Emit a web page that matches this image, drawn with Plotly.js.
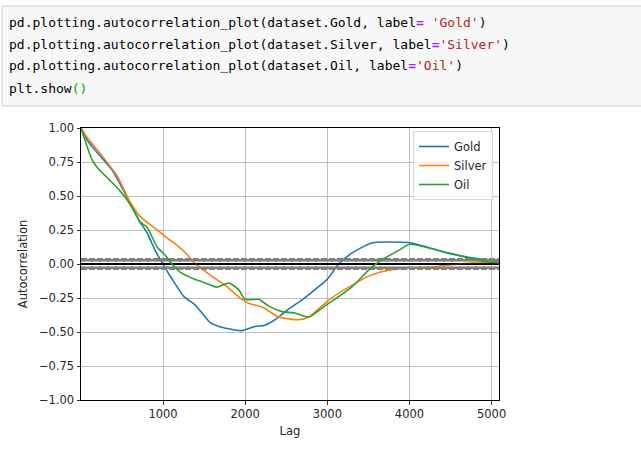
<!DOCTYPE html>
<html>
<head>
<meta charset="utf-8">
<script src="https://cdn.plot.ly/plotly-3.0.1.min.js"></script>
<style>
  html, body { margin: 0; padding: 0; background: #fff; }
  #plot { width: 641px; height: 457px; }
</style>
</head>
<body>
<div id="plot"></div>
<script>
// lag values for each series
var gold_lag = [1, 77, 198, 380, 563, 708, 805, 903, 988, 1109, 1255, 1389, 1474, 1571, 1680, 1875, 1960, 2118, 2239, 2361, 2531, 2689, 2847, 2968, 3017, 3139, 3297, 3540, 3904, 4026, 4232, 4475, 4718, 4961, 5090]
var gold_acf = [1.0, 0.91, 0.82, 0.69, 0.49, 0.32, 0.23, 0.10, 0.01, -0.11, -0.24, -0.30, -0.36, -0.43, -0.46, -0.485, -0.49, -0.46, -0.45, -0.41, -0.33, -0.265, -0.19, -0.13, -0.10, 0.0, 0.08, 0.155, 0.16, 0.155, 0.12, 0.08, 0.05, 0.03, 0.015]

var silver_lag = [1, 77, 198, 441, 587, 720, 927, 1073, 1134, 1292, 1377, 1571, 1753, 1960, 2050, 2203, 2409, 2652, 2774, 3017, 3260, 3540, 3746, 3989, 4305, 4597, 4876, 5090]
var silver_acf = [1.0, 0.93, 0.84, 0.65, 0.47, 0.35, 0.25, 0.18, 0.155, 0.07, 0.01, -0.08, -0.155, -0.26, -0.29, -0.315, -0.39, -0.41, -0.39, -0.265, -0.17, -0.08, -0.045, -0.03, -0.02, 0.0, 0.01, 0.01]

var oil_lag = [1, 77, 137, 198, 344, 465, 563, 660, 720, 806, 927, 1024, 1109, 1207, 1377, 1474, 1656, 1802, 1923, 1996, 2166, 2288, 2446, 2604, 2774, 2968, 3297, 3503, 3661, 3868, 4002, 4232, 4475, 4718, 4961, 5090]
var oil_acf = [1.0, 0.86, 0.765, 0.71, 0.62, 0.545, 0.47, 0.375, 0.31, 0.27, 0.125, 0.066, 0.0, -0.06, -0.11, -0.13, -0.17, -0.14, -0.19, -0.26, -0.26, -0.31, -0.35, -0.36, -0.39, -0.31, -0.17, -0.045, 0.03, 0.10, 0.145, 0.12, 0.08, 0.045, 0.015, 0.01]

var series_names = ['Gold', 'Silver', 'Oil']
var series_colors = ['#1f77b4', '#ff7f0e', '#2ca02c']

var n_obs = 5090
var x_ticks = [1000, 2000, 3000, 4000, 5000]
var y_ticks = [-1.0, -0.75, -0.5, -0.25, 0.0, 0.25, 0.5, 0.75, 1.0]

var code_lines = [
  'pd.plotting.autocorrelation_plot(dataset.Gold, label<span style="color:#aa22ff"><b>=</b></span> <span style="color:#ba2121">\'Gold\'</span>)',
  'pd.plotting.autocorrelation_plot(dataset.Silver, label<span style="color:#aa22ff"><b>=</b></span><span style="color:#ba2121">\'Silver\'</span>)',
  'pd.plotting.autocorrelation_plot(dataset.Oil, label<span style="color:#aa22ff"><b>=</b></span><span style="color:#ba2121">\'Oil\'</span>)',
  'plt.show<span style="color:#00aa00">()</span>'
]

// confidence bands, same as pandas does it
var z95 = 1.959963984540054 / Math.sqrt(n_obs)
var z99 = 2.5758293035489004 / Math.sqrt(n_obs)

// plot area in pixels, used to put the notebook cell in paper coords
var area = {l: 81, r: 499, t: 128, b: 400}
function px_x(px) { return (px - area.l) / (area.r - area.l) }
function px_y(py) { return (area.b - py) / (area.b - area.t) }

function hline(y, color, width, dash) {
  return {
    x: [1, n_obs], y: [y, y], type: 'scatter', mode: 'lines',
    line: {color: color, width: width, dash: dash},
    showlegend: false, hoverinfo: 'skip'
  }
}

function band_lines() {
  return [
    hline(z99, '#808080', 2, '6px,2px'),
    hline(z95, '#808080', 2, 'solid'),
    hline(0.0, '#000000', 1.6, 'solid'),
    hline(-z95, '#808080', 2, 'solid'),
    hline(-z99, '#808080', 2, '6px,2px')
  ]
}

function acf_trace(i, lag, acf) {
  return {
    name: series_names[i], x: lag, y: acf,
    type: 'scatter', mode: 'lines',
    line: {color: series_colors[i], width: 1.6, shape: 'spline', smoothing: 0.5}
  }
}

// same drawing order as the three pandas calls
var data = []
data = data.concat(band_lines())
data.push(acf_trace(0, gold_lag, gold_acf))
data = data.concat(band_lines())
data.push(acf_trace(1, silver_lag, silver_acf))
data = data.concat(band_lines())
data.push(acf_trace(2, oil_lag, oil_acf))

var tick_font = {family: 'DejaVu Sans', size: 11.5, color: '#262626'}

var annotations = code_lines.map((txt, k) => ({
  xref: 'paper', yref: 'paper',
  x: px_x(7), y: px_y(22 + k * 22),
  xanchor: 'left', yanchor: 'middle',
  text: txt, showarrow: false, align: 'left',
  font: {family: 'DejaVu Sans Mono', size: 13, color: '#000'}
}))

var layout = {
  width: 641, height: 457,
  margin: {l: area.l, r: 641 - area.r, t: area.t, b: 457 - area.b, pad: 0},
  paper_bgcolor: '#fff', plot_bgcolor: '#fff',
  showlegend: true,
  legend: {
    x: px_x(413), y: px_y(131), xanchor: 'left', yanchor: 'top',
    bgcolor: 'rgba(255,255,255,0.8)', bordercolor: '#d8d8d8', borderwidth: 1,
    font: tick_font, itemwidth: 30, traceorder: 'normal', tracegroupgap: 0
  },
  xaxis: {
    range: [1, n_obs], tickvals: x_ticks, ticktext: x_ticks.map(String),
    ticks: 'outside', ticklen: 3.5, tickwidth: 0.8, tickcolor: '#000',
    showgrid: true, gridcolor: '#b0b0b0', gridwidth: 0.8,
    zeroline: false, showline: true, linecolor: '#000', linewidth: 1, mirror: true,
    tickfont: tick_font,
    title: {text: 'Lag', font: tick_font, standoff: 6}
  },
  yaxis: {
    range: [-1, 1], tickvals: y_ticks, tickformat: '.2f',
    ticks: 'outside', ticklen: 3.5, tickwidth: 0.8, tickcolor: '#000',
    showgrid: true, gridcolor: '#b0b0b0', gridwidth: 0.8,
    zeroline: false, showline: true, linecolor: '#000', linewidth: 1, mirror: true,
    tickfont: tick_font,
    title: {text: 'Autocorrelation', font: tick_font, standoff: 8}
  },
  shapes: [{
    type: 'rect', xref: 'paper', yref: 'paper', layer: 'below',
    x0: px_x(2), x1: px_x(660), y0: px_y(106), y1: px_y(6),
    fillcolor: '#f7f7f7', line: {color: '#cfcfcf', width: 1}
  }],
  annotations: annotations
}

Plotly.newPlot('plot', data, layout, {staticPlot: true, displayModeBar: false})
</script>
</body>
</html>
